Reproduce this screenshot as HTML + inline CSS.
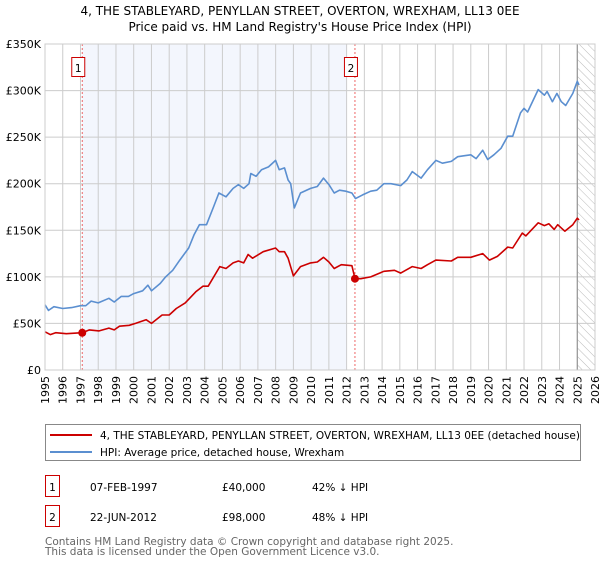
<!DOCTYPE html>
<html><head><meta charset="utf-8"><style>
body{margin:0;background:#fff;font-family:"DejaVu Sans","Liberation Sans",sans-serif;}
svg text{font-family:"DejaVu Sans","Liberation Sans",sans-serif;}
</style></head><body>
<svg id="c" width="600" height="560" viewBox="0 0 600 560" xmlns="http://www.w3.org/2000/svg">
<text x="300" y="15" text-anchor="middle" font-size="12" fill="#000">4, THE STABLEYARD, PENYLLAN STREET, OVERTON, WREXHAM, LL13 0EE</text>
<text x="300" y="31" text-anchor="middle" font-size="12" fill="#000">Price paid vs. HM Land Registry's House Price Index (HPI)</text>
<g id="plot"></g>
<g>
<rect x="45.5" y="424.5" width="535" height="36" fill="#fff" stroke="#888"/>
<line x1="50" y1="435" x2="92" y2="435" stroke="#cc0000" stroke-width="2"/>
<text x="100" y="439" font-size="10.5">4, THE STABLEYARD, PENYLLAN STREET, OVERTON, WREXHAM, LL13 0EE (detached house)</text>
<line x1="50" y1="452" x2="92" y2="452" stroke="#5b8fd0" stroke-width="2"/>
<text x="100" y="456" font-size="10.5">HPI: Average price, detached house, Wrexham</text>
</g>
<g font-size="10.5">
<rect x="45.5" y="475.5" width="14" height="21" fill="#fff" stroke="#cc0000"/><text x="52.5" y="491" text-anchor="middle">1</text>
<text x="90" y="491">07-FEB-1997</text><text x="222" y="491">£40,000</text><text x="312" y="491">42% ↓ HPI</text>
<rect x="45.5" y="505.5" width="14" height="21" fill="#fff" stroke="#cc0000"/><text x="52.5" y="521" text-anchor="middle">2</text>
<text x="90" y="521">22-JUN-2012</text><text x="222" y="521">£98,000</text><text x="312" y="521">48% ↓ HPI</text>
</g>
<text x="45" y="545" font-size="10.5" fill="#666">Contains HM Land Registry data © Crown copyright and database right 2025.</text>
<text x="45" y="555" font-size="10.5" fill="#666">This data is licensed under the Open Government Licence v3.0.</text>
</svg>
<script>
const hpiYears=[1995.0,1995.2,1995.5,1996.0,1996.5,1997.0,1997.3,1997.6,1998.0,1998.6,1998.9,1999.3,1999.7,2000.0,2000.5,2000.8,2001.0,2001.5,2001.8,2002.2,2002.6,2003.1,2003.4,2003.7,2004.1,2004.5,2004.8,2005.2,2005.6,2005.9,2006.2,2006.5,2006.6,2006.9,2007.2,2007.6,2008.0,2008.2,2008.5,2008.7,2008.85,2009.05,2009.4,2009.97,2010.35,2010.7,2011.0,2011.3,2011.6,2011.95,2012.3,2012.5,2012.9,2013.36,2013.7,2014.1,2014.5,2015.05,2015.4,2015.7,2016.2,2016.56,2017.03,2017.4,2017.9,2018.26,2018.6,2019.0,2019.3,2019.67,2019.95,2020.3,2020.7,2021.08,2021.36,2021.8,2022.0,2022.2,2022.8,2023.15,2023.3,2023.6,2023.85,2024.1,2024.35,2024.75,2025.0,2025.1];
const hpiValues=[70,64,68,66,67,69,69,74,72,77,73,79,79,82,85,91,85,93,100,107,118,131,145,156,156,175,190,186,195,199,195,200,211,208,215,218,225,215,217,204,200,174,190,195,197,206,199,190,193,192,190,184,188,192,193,200,200,198,204,213,206,215,225,222,224,229,230,231,227,236,226,231,238,251,251,276,281,277,301,295,299,288,297,288,284,297,310,306];
const ppYears=[1995.0,1995.3,1995.6,1996.2,1997.1,1997.5,1998.05,1998.6,1998.9,1999.2,1999.75,2000.1,2000.7,2001.0,2001.6,2002.0,2002.4,2002.9,2003.15,2003.5,2003.9,2004.2,2004.85,2005.2,2005.6,2005.9,2006.2,2006.45,2006.7,2007.3,2008.0,2008.2,2008.5,2008.7,2009.0,2009.4,2009.97,2010.35,2010.7,2011.0,2011.3,2011.7,2012.3,2012.47,2012.8,2013.36,2014.1,2014.7,2015.05,2015.7,2016.2,2016.56,2017.03,2017.9,2018.26,2019.0,2019.67,2020.05,2020.5,2021.08,2021.36,2021.9,2022.1,2022.8,2023.15,2023.4,2023.7,2023.9,2024.3,2024.75,2025.0,2025.1];
const ppValues=[41,38,40,39,40,43,42,45,43,47,48,50,54,50,59,59,66,72,77,84,90,90,111,109,115,117,115,124,120,127,131,127,127,120,101,111,115,116,121,116,109,113,112,98,98,100,106,107,104,111,109,113,118,117,121,121,125,118,122,132,131,147,144,158,155,157,151,156,149,156,163,161];
const saleYears=[1997.1,2012.47];
const saleValues=[40,98];
const saleLabels=["1","2"];
const yTicks=[0,50,100,150,200,250,300,350];
const yTickLabels=["£0","£50K","£100K","£150K","£200K","£250K","£300K","£350K"];
const xTicks=[1995,1996,1997,1998,1999,2000,2001,2002,2003,2004,2005,2006,2007,2008,2009,2010,2011,2012,2013,2014,2015,2016,2017,2018,2019,2020,2021,2022,2023,2024,2025,2026];

const L=45,R=595,T=44,B=370;
const xs=y=>L+(y-1995)/(2026-1995)*(R-L);
const ys=v=>B-v/350*(B-T);
const NS="http://www.w3.org/2000/svg";
const g=document.getElementById('plot');
function mk(tag,attrs,parent){const e=document.createElementNS(NS,tag);for(const k in attrs)e.setAttribute(k,attrs[k]);(parent||g).appendChild(e);return e;}

const shade=mk('rect',{x:xs(saleYears[0]),y:T,width:xs(2012.0)-xs(saleYears[0]),height:B-T,fill:'#eef2fc',opacity:0.7});


const defs=mk('defs',{});
const pat=mk('pattern',{id:'hatch',width:6,height:6,patternUnits:'userSpaceOnUse',patternTransform:'rotate(-45)'},defs);
mk('line',{x1:0,y1:0,x2:0,y2:6,stroke:'#bbb','stroke-width':1},pat);
const hatch=mk('rect',{x:xs(2025),y:T,width:R-xs(2025),height:B-T,fill:'url(#hatch)'});



xTicks.forEach((t,i)=>{
  const x=xs(t);
  const ln=mk('line',{x1:x,y1:T,x2:x,y2:B,stroke:'#ccc','stroke-width':1});
  
  
  const tx=mk('text',{x:0,y:0,'font-size':11,'text-anchor':'end',transform:`translate(${x+4},376) rotate(-90)`});
  tx.textContent=String(t);
  
  
});
yTicks.forEach((t,i)=>{
  const y=ys(t);
  const ln=mk('line',{x1:L,y1:y,x2:R,y2:y,stroke:'#ccc','stroke-width':1});
  
  
  const tx=mk('text',{x:L-4,y:y+4,'font-size':11,'text-anchor':'end'});
  tx.textContent=yTickLabels[i];
  
  
});
const nowLine=mk('line',{x1:xs(2025),y1:T,x2:xs(2025),y2:B,stroke:'#888','stroke-width':1});



saleYears.forEach((s,i)=>{
  const x=xs(s);
  const vl=mk('line',{x1:x,y1:T,x2:x,y2:B,stroke:'#e66','stroke-width':1,'stroke-dasharray':'2,2'});
  
  
  const bx=mk('rect',{x:x-10.5,y:57.5,width:13,height:19,fill:'#fff',stroke:'#cc0000'});
  
  
  const bt=mk('text',{x:x-4,y:72,'font-size':10.5,'text-anchor':'middle'});
  bt.textContent=saleLabels[i];
  
  
});

function path(xsArr,vals,color,name){
  const d=xsArr.map((y,i)=>(i?'L':'M')+xs(y).toFixed(1)+','+ys(vals[i]).toFixed(1)).join('');
  const p=mk('path',{d:d,fill:'none',stroke:color,'stroke-width':1.6,'stroke-linejoin':'round'});
  
  
}
path(hpiYears,hpiValues,'#5b8fd0','hpi-line');
path(ppYears,ppValues,'#cc0000','price-paid-line');
saleYears.forEach((s,i)=>{
  const c=mk('circle',{cx:xs(s),cy:ys(saleValues[i]),r:4,fill:'#cc0000'});
  
  
});
const frame=mk('rect',{x:L,y:T,width:R-L,height:B-T,fill:'none',stroke:'#ccc'});


</script>
</body></html>
